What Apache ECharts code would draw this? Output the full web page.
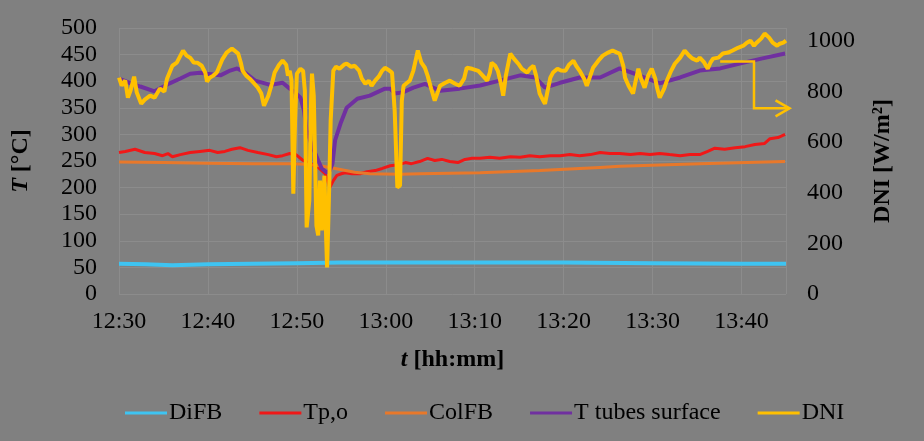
<!DOCTYPE html>
<html>
<head>
<meta charset="utf-8">
<script src="https://cdn.jsdelivr.net/npm/echarts@6/dist/echarts.min.js"></script>
<style>
html,body{margin:0;padding:0;background:#808080;}
#c{width:924px;height:441px;}
</style>
</head>
<body>
<div id="c"></div>
<script>
// time in minutes after 12:30
const xTickLabels = ['12:30','12:40','12:50','13:00','13:10','13:20','13:30','13:40'];
const seriesNames = ['DiFB','Tp,o','ColFB','T tubes surface','DNI'];

const difbT = [0,3,6,8,10,15,20,25,30,40,50,60,70,75];
const difbV = [57,56,54,55,56,57,58,59,59,59,59,58,57,57];

const tpoT = [0,0.7,1.8,2.9,4.0,4.9,5.5,6.0,6.9,8.0,9.1,10.2,11.1,11.9,12.7,13.6,14.5,15.6,16.8,17.7,18.4,19.2,19.9,20.7,21.5,22.4,22.8,23.2,23.5,23.7,24.1,24.5,25.0,25.4,26.2,27.1,27.9,28.8,29.6,30.5,31.4,32.2,32.9,33.8,34.7,35.5,36.3,37.2,38.1,38.9,39.7,40.6,41.7,42.8,44.0,45.1,46.2,47.3,48.5,49.6,50.7,51.8,53.0,54.1,55.2,56.3,57.5,58.6,59.7,60.8,61.9,63.1,64.2,65.3,66.2,67.0,68.1,69.3,70.4,71.5,72.6,73.2,74.1,74.9];
const tpoV = [266,268,272,266,264,260,264,258,262,266,268,270,266,268,272,275,270,266,262,258,260,264,262,251,245,238,232,226,210,200,213,223,226,228,226,226,230,232,236,241,243,247,245,249,255,251,253,249,247,253,255,255,257,255,258,257,260,258,260,260,262,260,262,266,264,264,262,264,262,264,262,260,262,262,268,274,272,275,277,281,283,292,294,300];

const colT = [0,5,10,15,19.2,21.0,22.6,24.3,26.5,28.2,31.6,33.8,40.6,47.3,54.1,56.3,65.3,74.9];
const colV = [248,247,246,245,245,244,241,236,229,226,225,226,228,232,238,240,245,249];

const tubT = [0,1.2,2.4,4.0,5.7,6.9,8.0,9.1,9.9,11.4,12.5,13.3,14.2,15.3,17.0,18.4,19.2,19.8,20.4,20.8,21.1,21.7,22.4,22.8,23.4,23.7,24.0,24.3,24.9,25.6,26.8,28.2,29.9,30.5,31.0,31.9,33.1,34.4,36.1,38.3,40.6,42.8,45.1,46.8,47.9,49.6,51.8,54.1,56.3,58.0,60.8,63.1,65.3,67.6,69.8,72.1,74.9];
const tubV = [405,397,390,381,396,405,414,416,414,411,420,424,416,401,393,397,386,379,369,345,307,279,251,236,228,232,245,289,320,350,367,373,386,386,377,379,388,395,382,386,392,401,411,407,388,397,407,407,424,414,396,407,420,424,433,442,452];

const dniT = [0,0.3,0.7,1.0,1.3,1.7,2.0,2.5,2.9,3.5,4.0,4.6,5.1,5.4,6.0,6.5,7.2,7.6,8.0,8.4,8.8,9.3,9.7,9.9,10.2,10.6,11.0,11.6,12.1,12.7,13.4,13.7,13.9,14.3,14.7,15.2,15.6,16.0,16.3,16.8,17.2,17.5,18.0,18.4,18.8,19.0,19.2,19.4,19.6,19.8,20.0,20.4,20.7,20.9,21.1,21.4,21.6,21.7,21.9,22.2,22.4,22.6,22.8,23.1,23.3,23.4,23.6,23.8,24.1,24.4,24.8,25.3,25.6,26.1,26.5,27.0,27.3,27.7,28.1,28.4,28.8,29.2,29.6,29.9,30.4,30.7,31.0,31.3,31.6,31.8,32.0,32.4,32.7,33.1,33.4,33.6,34.0,34.4,34.7,35.1,35.5,35.9,36.1,36.7,37.2,37.8,38.3,38.8,39.1,39.7,40.4,40.9,41.4,41.7,41.9,42.3,42.6,43.0,43.2,43.5,44.0,44.4,44.9,45.3,45.9,46.2,46.6,46.9,47.3,47.7,47.9,48.2,48.5,48.8,49.3,49.7,50.2,50.6,51.1,51.4,51.8,52.3,52.6,53.0,53.3,53.9,54.4,55.0,55.5,56.0,56.3,56.7,56.9,57.3,57.8,58.1,58.4,58.7,59.1,59.5,59.9,60.3,60.5,60.8,61.3,61.6,62.1,62.5,63.1,63.6,64.1,64.5,65.0,65.3,65.8,66.2,66.5,66.8,67.4,67.9,68.5,69.0,69.6,70.2,70.6,71.0,71.4,71.7,72.2,72.6,73.1,73.5,74.0,74.3,74.7,75.0];
const dniV = [854,823,843,775,803,858,795,751,767,783,775,811,799,850,901,913,961,941,933,914,913,901,874,838,854,862,874,925,953,969,949,913,881,862,850,831,815,791,743,783,831,874,905,921,905,862,881,843,396,684,870,889,881,803,263,369,763,870,783,270,231,448,251,467,211,105,369,684,882,897,889,905,909,897,901,882,850,830,842,822,842,858,882,893,882,874,724,421,428,763,822,834,842,882,929,961,913,893,862,811,763,803,822,834,842,830,822,850,893,889,881,862,842,874,913,901,881,822,783,862,949,929,909,889,874,889,901,862,791,763,751,803,854,874,889,882,881,905,921,901,881,850,822,862,893,921,941,953,961,953,949,901,854,822,791,842,889,850,814,862,889,850,814,775,811,842,882,909,933,961,941,929,921,933,914,889,913,929,933,949,953,961,972,980,992,1000,980,992,1008,1028,1012,992,980,988,992,1000];

// annotation arrow (data coords: minutes, left-axis °C)
const arrowPath = [[67.6,437],[71.4,437],[71.4,349],[75.4,349]];

function pairs(t, v){ return t.map((x,i)=>[x, v[i]]); }
function fmtTime(m){
  const total = 12*60+30+m;
  const h = Math.floor(total/60), mm = Math.round(total%60);
  return h + ':' + (mm<10?'0':'') + mm;
}

const font = 'Liberation Serif';
const colors = ['#3EC4F2','#F01818','#E8782A','#7030A0','#FFC000'];
const widths = [4,3,3,4,4];
const datasets = [pairs(difbT,difbV), pairs(tpoT,tpoV), pairs(colT,colV), pairs(tubT,tubV), pairs(dniT,dniV)];

const chart = echarts.init(document.getElementById('c'), null, {renderer:'canvas'});
const option = {
  backgroundColor: '#808080',
  animation: false,
  textStyle: {fontFamily: font, color:'#000'},
  grid: {left:119, right:138, top:28, bottom:147, containLabel:false},
  legend: {
    left: 120, top: 396,
    icon: 'rect',
    itemWidth: 42, itemHeight: 3, itemGap: 37,
    textStyle: {fontFamily: font, fontSize: 24, color:'#000', padding:[0,0,0,-3]},
    data: seriesNames
  },
  xAxis: {
    type:'value', min:0, max:75, interval:10,
    name:'{i|t}{b| [hh:mm]}', nameLocation:'middle', nameGap:54,
    nameTextStyle:{rich:{i:{fontFamily:font,fontSize:24,fontWeight:'bold',fontStyle:'italic',color:'#000'}, b:{fontFamily:font,fontSize:24,fontWeight:'bold',color:'#000'}}},
    axisLine:{show:false}, axisTick:{show:false},
    axisLabel:{fontFamily:font, fontSize:24, color:'#000', margin:16, showMaxLabel:false,
      formatter:(v)=>{ const i = Math.round(v/10); return (v%10===0 && xTickLabels[i]) ? xTickLabels[i] : fmtTime(v); }},
    splitLine:{show:true, lineStyle:{color:'#8c8c8c', width:1}}
  },
  yAxis: [{
    type:'value', min:0, max:500, interval:50,
    name:'{i|T}{b| [°C]}', nameLocation:'middle', nameGap:86, nameRotate:90,
    nameTextStyle:{rich:{i:{fontFamily:font,fontSize:24,fontWeight:'bold',fontStyle:'italic',color:'#000'}, b:{fontFamily:font,fontSize:24,fontWeight:'bold',color:'#000'}}},
    axisLine:{show:false}, axisTick:{show:false},
    axisLabel:{fontFamily:font, fontSize:24, color:'#000', margin:22, formatter:(v)=>String(v)},
    splitLine:{show:true, lineStyle:{color:'#8c8c8c', width:1}}
  },{
    type:'value', min:0, max:1050, interval:200, position:'right',
    name:'DNI [W/m²]', nameLocation:'middle', nameGap:85, nameRotate:90,
    nameTextStyle:{fontFamily:font,fontSize:24,fontWeight:'bold',color:'#000'},
    axisLine:{show:false}, axisTick:{show:false},
    axisLabel:{fontFamily:font, fontSize:24, color:'#000', margin:21, showMaxLabel:false, formatter:(v)=>String(v)},
    splitLine:{show:false}
  }],
  series: seriesNames.map((n,i)=>({
    name:n, type:'line', data:datasets[i], yAxisIndex: i===4?1:0,
    showSymbol:false, symbol:'none', smooth:false,
    lineStyle:{color:colors[i], width:widths[i]}, itemStyle:{color:colors[i]},
    z: 2+i
  }))
};
chart.setOption(option);

// annotation arrow
const pts = arrowPath.map(p=>chart.convertToPixel({xAxisIndex:0,yAxisIndex:0}, p));
const end = pts[pts.length-1];
chart.setOption({graphic:[
  {type:'polyline', shape:{points:pts}, style:{stroke:'#FFC000', lineWidth:2.5, fill:null}, z:100},
  {type:'polyline', shape:{points:[[end[0]-14,end[1]-8],end,[end[0]-14,end[1]+8]]}, style:{stroke:'#FFC000', lineWidth:2.5, fill:null}, z:100}
]});
</script>
</body>
</html>
